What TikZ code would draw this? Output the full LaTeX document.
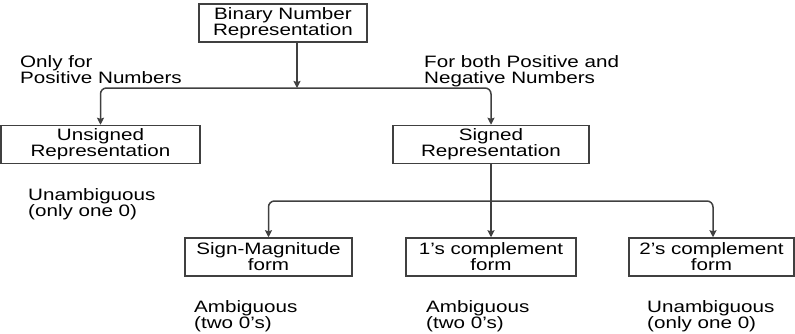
\documentclass[tikz,border=0pt]{standalone}
\usepackage{fontspec}
\setmainfont{Liberation Sans}[FakeStretch=1.25]
\usetikzlibrary{arrows.meta}
\definecolor{linegray}{gray}{0.25}
\newcommand{\labelfont}{\fontsize{16.5}{16}\selectfont}

\begin{document}
\begin{tikzpicture}[x=1pt, y=-1pt,
    box/.style={draw=linegray, line width=1.5pt, align=center, inner sep=0pt,
      minimum height=38pt, font=\labelfont},
    note/.style={anchor=north west, align=left, inner sep=0pt, font=\labelfont},
    link/.style={draw=linegray, line width=1.5pt, -{Stealth[length=7pt, width=7pt, inset=1pt]}},
    branch/.style={link, rounded corners=6pt}]
    \useasboundingbox (0,0) rectangle (795,333);
    % Root box
    \node[box, minimum width=168pt] (bin) at (283,23) {Binary Number\\Representation};
    \coordinate (split) at (297,88);
    % First level boxes
    \node[box, minimum width=199pt] (uns) at (100.5,144.5) {Unsigned\\Representation};
    \node[box, minimum width=196pt] (sig) at (491,144.5) {Signed\\Representation};
    % Labels of the first branches
    \node[note] (onlypos) at (20,55) {Only for\\Positive Numbers};
    \node[note] (bothpos) at (424,55) {For both Positive and\\Negative Numbers};
    \node[note] (unsnote) at (28,188) {Unambiguous\\(only one 0)};
    % Second level boxes
    \coordinate (fork) at (491,201);
    \node[box, minimum width=167pt] (sm) at (268.5,257) {Sign-Magnitude\\form};
    \node[box, minimum width=170pt] (one) at (491,257) {1's complement\\form};
    \node[box, minimum width=165pt] (two) at (711.5,257) {2's complement\\form};
    % Notes under the forms
    \node[note] (smnote) at (194,300) {Ambiguous\\(two 0's)};
    \node[note] (onenote) at (426,300) {Ambiguous\\(two 0's)};
    \node[note] (twonote) at (647,300) {Unambiguous\\(only one 0)};
    % Connectors
    \draw[link] (bin.south -| split) -- (split);
    \draw[branch] (split) -| (uns.north);
    \draw[branch] (split) -| (sig.north);
    \draw[link] (sig.south) -- (one.north);
    \draw[branch] (fork) -| (sm.north);
    \draw[branch] (fork) -| ([xshift=1.5pt]two.north);
\end{tikzpicture}
\end{document}
